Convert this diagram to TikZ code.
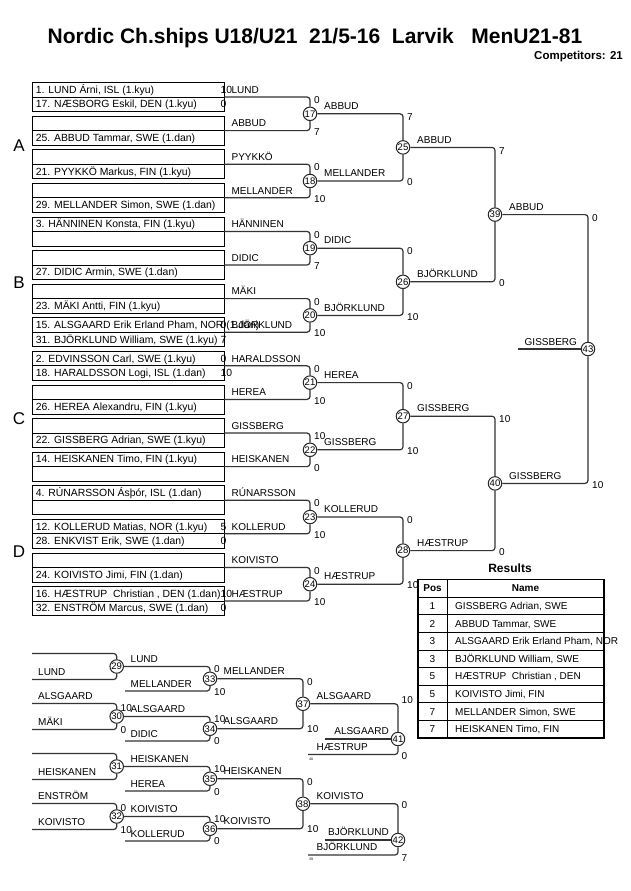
\documentclass[tikz,border=0pt]{standalone}
\usepackage{fontspec}
\setmainfont{Liberation Sans}
\begin{document}
\begin{tikzpicture}[x=1pt,y=-1pt,
  lbl/.style={font=\fontsize{10}{11}\selectfont, inner sep=0pt, text height=7.2pt, text depth=0pt, anchor=west},
  ent/.style={lbl, font=\fontsize{10.4}{11}\selectfont},
  tinytxt/.style={font=\fontsize{3.5}{4}\selectfont, inner sep=0pt, anchor=west},
  rowbox/.style={draw=black, line width=0.8pt, minimum width=192pt, minimum height=14.5pt, inner sep=0pt},
  brk/.style={draw=black!80, line width=1.2pt, rounded corners=3pt},
  mc/.style={circle, draw=black!85, line width=1pt, fill=white, minimum size=13.5pt, inner sep=0pt, font=\fontsize{9.5}{10}\selectfont},
  sect/.style={font=\fontsize{17}{18}\selectfont, inner sep=0pt},
  hd/.style={font=\fontsize{10}{11}\selectfont\bfseries, inner sep=0pt, text height=7.2pt, text depth=0pt},
  cel/.style={font=\fontsize{10}{11}\selectfont, inner sep=0pt, text height=7.2pt, text depth=0pt},
  tline/.style={draw=black, line width=0.8pt},
]
\useasboundingbox (0,0) rectangle (630,891);

% title
\node[font=\fontsize{21}{23}\selectfont\bfseries, inner sep=0pt] (title) at (315,38) {Nordic Ch.ships U18/U21\ \ 21/5-16\ \ Larvik\ \ \ MenU21-81};
\node[font=\fontsize{11.5}{12}\selectfont\bfseries, inner sep=0pt, anchor=east] (comp) at (623,57) {Competitors: 21};

% section letters
\node[sect] (secA) at (19,146) {A};
\node[sect] (secB) at (19,283) {B};
\node[sect] (secC) at (19,419) {C};
\node[sect] (secD) at (19,552) {D};

% entry boxes
\foreach \k in {0,...,15}{
  \pgfmathsetmacro\ya{89.75+33.6*\k}
  \pgfmathsetmacro\yb{104.25+33.6*\k}
  \pgfmathsetmacro\yd{97+33.6*\k}
  \node[rowbox] (ra\k) at (128,\ya) {};
  \node[rowbox] (rb\k) at (128,\yb) {};
  \coordinate (p\k) at (224,\yd);
}

% entry texts
\node[ent] (ta0) at ([xshift=4pt]ra0.west) {1. LUND Árni, ISL (1.kyu)};
\node[ent] (tb0) at ([xshift=4pt]rb0.west) {17. NÆSBORG Eskil, DEN (1.kyu)};
\node[ent] (tb1) at ([xshift=4pt]rb1.west) {25. ABBUD Tammar, SWE (1.dan)};
\node[ent] (tb2) at ([xshift=4pt]rb2.west) {21. PYYKKÖ Markus, FIN (1.kyu)};
\node[ent] (tb3) at ([xshift=4pt]rb3.west) {29. MELLANDER Simon, SWE (1.dan)};
\node[ent] (ta4) at ([xshift=4pt]ra4.west) {3. HÄNNINEN Konsta, FIN (1.kyu)};
\node[ent] (tb5) at ([xshift=4pt]rb5.west) {27. DIDIC Armin, SWE (1.dan)};
\node[ent] (tb6) at ([xshift=4pt]rb6.west) {23. MÄKI Antti, FIN (1.kyu)};
\node[ent] (ta7) at ([xshift=4pt]ra7.west) {15. ALSGAARD Erik Erland Pham, NOR (1.dan)};
\node[ent] (tb7) at ([xshift=4pt]rb7.west) {31. BJÖRKLUND William, SWE (1.kyu)};
\node[ent] (ta8) at ([xshift=4pt]ra8.west) {2. EDVINSSON Carl, SWE (1.kyu)};
\node[ent] (tb8) at ([xshift=4pt]rb8.west) {18. HARALDSSON Logi, ISL (1.dan)};
\node[ent] (tb9) at ([xshift=4pt]rb9.west) {26. HEREA Alexandru, FIN (1.kyu)};
\node[ent] (tb10) at ([xshift=4pt]rb10.west) {22. GISSBERG Adrian, SWE (1.kyu)};
\node[ent] (ta11) at ([xshift=4pt]ra11.west) {14. HEISKANEN Timo, FIN (1.kyu)};
\node[ent] (ta12) at ([xshift=4pt]ra12.west) {4. RÚNARSSON Ásþór, ISL (1.dan)};
\node[ent] (ta13) at ([xshift=4pt]ra13.west) {12. KOLLERUD Matias, NOR (1.kyu)};
\node[ent] (tb13) at ([xshift=4pt]rb13.west) {28. ENKVIST Erik, SWE (1.dan)};
\node[ent] (tb14) at ([xshift=4pt]rb14.west) {24. KOIVISTO Jimi, FIN (1.dan)};
\node[ent] (ta15) at ([xshift=4pt]ra15.west) {16. HÆSTRUP\ \ Christian , DEN (1.dan)};
\node[ent] (tb15) at ([xshift=4pt]rb15.west) {32. ENSTRÖM Marcus, SWE (1.dan)};

% entry scores
\node[ent] (sa0) at ([xshift=-4pt]ra0.east) {10};
\node[ent] (sb0) at ([xshift=-4pt]rb0.east) {0};
\node[ent] (sa7) at ([xshift=-4pt]ra7.east) {0};
\node[ent] (sb7) at ([xshift=-4pt]rb7.east) {7};
\node[ent] (sa8) at ([xshift=-4pt]ra8.east) {0};
\node[ent] (sb8) at ([xshift=-4pt]rb8.east) {10};
\node[ent] (sa13) at ([xshift=-4pt]ra13.east) {5};
\node[ent] (sb13) at ([xshift=-4pt]rb13.east) {0};
\node[ent] (sa15) at ([xshift=-4pt]ra15.east) {10};
\node[ent] (sb15) at ([xshift=-4pt]rb15.east) {0};

% entry winners
\foreach \k/\w in {0/LUND,1/ABBUD,2/PYYKKÖ,3/MELLANDER,4/HÄNNINEN,5/DIDIC,6/MÄKI,7/BJÖRKLUND,8/HARALDSSON,9/HEREA,10/GISSBERG,11/HEISKANEN,12/RÚNARSSON,13/KOLLERUD,14/KOIVISTO,15/HÆSTRUP}
  \node[lbl] (w\k) at ([xshift=7pt]ra\k.east) {\w};

% main bracket circles
\node[mc] (m17) at (310,113.8) {17};
\node[mc] (m18) at (310,181.0) {18};
\node[mc] (m19) at (310,248.2) {19};
\node[mc] (m20) at (310,315.4) {20};
\node[mc] (m21) at (310,382.6) {21};
\node[mc] (m22) at (310,449.8) {22};
\node[mc] (m23) at (310,517.0) {23};
\node[mc] (m24) at (310,584.2) {24};
\node[mc] (m25) at (403,147.4) {25};
\node[mc] (m26) at (403,281.8) {26};
\node[mc] (m27) at (403,416.2) {27};
\node[mc] (m28) at (403,550.6) {28};
\node[mc] (m39) at (495,214.6) {39};
\node[mc] (m40) at (495,483.4) {40};
\node[mc] (m43) at (588,349.0) {43};

\foreach \a/\b in {0/17,1/17,2/18,3/18,4/19,5/19,6/20,7/20,8/21,9/21,10/22,11/22,12/23,13/23,14/24,15/24}
  \draw[brk] (p\a) -| (m\b);
\foreach \a/\b in {17/25,18/25,19/26,20/26,21/27,22/27,23/28,24/28,25/39,26/39,27/40,28/40,39/43,40/43}
  \draw[brk] (m\a) -| (m\b);
\coordinate (g43) at (518,349);
\draw[brk] (g43) -- (m43);
\node[lbl] (w43) at (524.5,342) {GISSBERG};

% round 1 scores
\node[lbl] (s17t) at (314,100.0) {0};  \node[lbl] (s17b) at (314,131.6) {7};
\node[lbl] (s18t) at (314,167.2) {0};  \node[lbl] (s18b) at (314,198.8) {10};
\node[lbl] (s19t) at (314,234.4) {0};  \node[lbl] (s19b) at (314,266.0) {7};
\node[lbl] (s20t) at (314,301.6) {0};  \node[lbl] (s20b) at (314,333.2) {10};
\node[lbl] (s21t) at (314,368.8) {0};  \node[lbl] (s21b) at (314,400.4) {10};
\node[lbl] (s22t) at (314,436.0) {10}; \node[lbl] (s22b) at (314,467.6) {0};
\node[lbl] (s23t) at (314,503.2) {0};  \node[lbl] (s23b) at (314,534.8) {10};
\node[lbl] (s24t) at (314,570.4) {0};  \node[lbl] (s24b) at (314,602.0) {10};
% round 1 winners
\node[lbl] (w17) at (324,105.8) {ABBUD};
\node[lbl] (w18) at (324,173.0) {MELLANDER};
\node[lbl] (w19) at (324,240.2) {DIDIC};
\node[lbl] (w20) at (324,307.4) {BJÖRKLUND};
\node[lbl] (w21) at (324,374.6) {HEREA};
\node[lbl] (w22) at (324,441.8) {GISSBERG};
\node[lbl] (w23) at (324,509.0) {KOLLERUD};
\node[lbl] (w24) at (324,576.2) {HÆSTRUP};
% round 2 scores
\node[lbl] (s25t) at (407,116.8) {7};  \node[lbl] (s25b) at (407,182.0) {0};
\node[lbl] (s26t) at (407,251.2) {0};  \node[lbl] (s26b) at (407,316.4) {10};
\node[lbl] (s27t) at (407,385.6) {0};  \node[lbl] (s27b) at (407,450.8) {10};
\node[lbl] (s28t) at (407,520.0) {0};  \node[lbl] (s28b) at (407,585.2) {10};
\node[lbl] (w25) at (417,139.4) {ABBUD};
\node[lbl] (w26) at (417,273.8) {BJÖRKLUND};
\node[lbl] (w27) at (417,408.2) {GISSBERG};
\node[lbl] (w28) at (417,542.6) {HÆSTRUP};
% round 3
\node[lbl] (s39t) at (499,150.4) {7};  \node[lbl] (s39b) at (499,282.8) {0};
\node[lbl] (s40t) at (499,419.2) {10}; \node[lbl] (s40b) at (499,551.6) {0};
\node[lbl] (w39) at (509,206.6) {ABBUD};
\node[lbl] (w40) at (509,475.4) {GISSBERG};
% round 4
\node[lbl] (s43t) at (592,217.6) {0};  \node[lbl] (s43b) at (592,484.4) {10};

% Results table
\node[font=\fontsize{12}{13}\selectfont\bfseries, inner sep=0pt] (restitle) at (510,568) {Results};
\foreach \i in {1,...,8}
  \draw[tline] (418,{579.5+17.61*\i}) -- (604,{579.5+17.61*\i});
\draw[tline] (447,579.5) -- (447,738);
\draw[draw=black, line width=1.6pt] (418,579.5) rectangle (604,738);
\node[hd] (hpos) at (432.5,588.3) {Pos};
\node[hd] (hname) at (525.5,588.3) {Name};
\foreach \i/\p/\n in {1/1/{GISSBERG Adrian, SWE},2/2/{ABBUD Tammar, SWE},3/3/{ALSGAARD Erik Erland Pham, NOR},4/3/{BJÖRKLUND William, SWE},5/5/{HÆSTRUP\ \ Christian , DEN},6/5/{KOIVISTO Jimi, FIN},7/7/{MELLANDER Simon, SWE},8/7/{HEISKANEN Timo, FIN}}{
  \node[cel] (rp\i) at (432.5,{588.3+17.61*\i}) {\p};
  \node[cel, anchor=west] (rn\i) at (455,{588.3+17.61*\i}) {\n};
}

% repechage
\node[mc] (c29) at (116.7,666.5) {29};
\node[mc] (c30) at (116.7,716.5) {30};
\node[mc] (c31) at (116.7,766.5) {31};
\node[mc] (c32) at (116.7,816.5) {32};
\node[mc] (c33) at (210,678.75) {33};
\node[mc] (c34) at (210,728.75) {34};
\node[mc] (c35) at (210,778.75) {35};
\node[mc] (c36) at (210,828.75) {36};
\node[mc] (c37) at (303,703.75) {37};
\node[mc] (c38) at (303,803.75) {38};
\node[mc] (c41) at (398,739) {41};
\node[mc] (c42) at (398,840) {42};

\coordinate (q29a) at (32,653.5); \coordinate (q29b) at (32,679.5);
\coordinate (q30a) at (32,703.5); \coordinate (q30b) at (32,729.5);
\coordinate (q31a) at (32,753.5); \coordinate (q31b) at (32,779.5);
\coordinate (q32a) at (32,803.5); \coordinate (q32b) at (32,829.5);
\coordinate (q33b) at (125,691); \coordinate (q34b) at (125,741);
\coordinate (q35b) at (125,791); \coordinate (q36b) at (125,841);
\coordinate (q41b) at (308,754.5); \coordinate (q42b) at (308,855);
\coordinate (a41) at (325,739); \coordinate (a42) at (325,840);

\foreach \a/\b in {29a/29,29b/29,30a/30,30b/30,31a/31,31b/31,32a/32,32b/32,33b/33,34b/34,35b/35,36b/36,41b/41,42b/42}
  \draw[brk] (q\a) -| (c\b);
\foreach \a/\b in {29/33,30/34,31/35,32/36,33/37,34/37,35/38,36/38,37/41,38/42}
  \draw[brk] (c\a) -| (c\b);
\draw[brk] (c41) -- (a41);
\draw[brk] (c42) -- (a42);

% repechage labels
\node[lbl] (e29) at (38,672) {LUND};
\node[lbl] (e30a) at (38,696) {ALSGAARD};
\node[lbl] (e30b) at (38,722) {MÄKI};
\node[lbl] (e31) at (38,772) {HEISKANEN};
\node[lbl] (e32a) at (38,796) {ENSTRÖM};
\node[lbl] (e32b) at (38,822) {KOIVISTO};
\node[lbl] (v29) at (130.5,658.5) {LUND};
\node[lbl] (e33) at (130.5,683.5) {MELLANDER};
\node[lbl] (v30) at (130.5,708.5) {ALSGAARD};
\node[lbl] (e34) at (130.5,733.5) {DIDIC};
\node[lbl] (v31) at (130.5,758.5) {HEISKANEN};
\node[lbl] (e35) at (130.5,783.5) {HEREA};
\node[lbl] (v32) at (130.5,808.5) {KOIVISTO};
\node[lbl] (e36) at (130.5,833.5) {KOLLERUD};
\node[lbl] (v33) at (223.5,671) {MELLANDER};
\node[lbl] (v34) at (223.5,721) {ALSGAARD};
\node[lbl] (v35) at (223.5,771) {HEISKANEN};
\node[lbl] (v36) at (223.5,821) {KOIVISTO};
\node[lbl] (v37) at (316.5,695.5) {ALSGAARD};
\node[lbl] (e41) at (316.5,746.5) {HÆSTRUP};
\node[lbl] (v38) at (316.5,796) {KOIVISTO};
\node[lbl] (e42) at (316.5,847) {BJÖRKLUND};
\node[lbl, anchor=east] (v41) at (389,731) {ALSGAARD};
\node[lbl, anchor=east] (v42) at (389,832) {BJÖRKLUND};
\node[tinytxt] (n40) at (309,759) {40};
\node[tinytxt] (n39) at (309,859.5) {39};

% repechage scores
\node[lbl] (k30t) at (120.5,707.5) {10}; \node[lbl] (k30b) at (120.5,729.5) {0};
\node[lbl] (k32t) at (120.5,807.5) {0};  \node[lbl] (k32b) at (120.5,829.5) {10};
\node[lbl] (k33t) at (214,669) {0};  \node[lbl] (k33b) at (214,691.5) {10};
\node[lbl] (k34t) at (214,719) {10}; \node[lbl] (k34b) at (214,741) {0};
\node[lbl] (k35t) at (214,769) {10}; \node[lbl] (k35b) at (214,791.5) {0};
\node[lbl] (k36t) at (214,819) {10}; \node[lbl] (k36b) at (214,841) {0};
\node[lbl] (k37t) at (307,682) {0};  \node[lbl] (k37b) at (307,729) {10};
\node[lbl] (k38t) at (307,782) {0};  \node[lbl] (k38b) at (307,829) {10};
\node[lbl] (k41t) at (401.5,700) {10}; \node[lbl] (k41b) at (401.5,755.5) {0};
\node[lbl] (k42t) at (401.5,805) {0};  \node[lbl] (k42b) at (401.5,858) {7};
\end{tikzpicture}
\end{document}
